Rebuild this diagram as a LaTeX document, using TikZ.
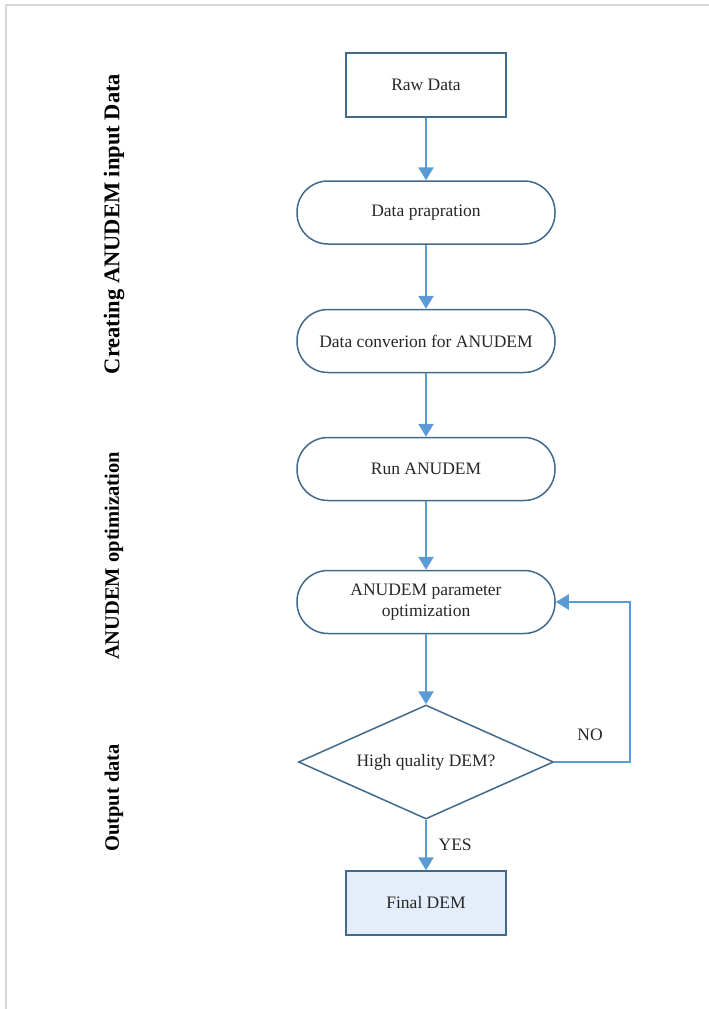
\documentclass[tikz,border=0pt]{standalone}
\usepackage{fontspec}
\setmainfont{Liberation Serif}
\usetikzlibrary{arrows.meta,shapes.geometric}

\definecolor{flowline}{RGB}{91,155,213}
\definecolor{boxline}{RGB}{65,105,140}
\definecolor{pageline}{RGB}{215,215,220}
\definecolor{finalfill}{RGB}{228,238,250}

\tikzset{
    box/.style={draw=boxline, line width=1.5pt, rectangle, minimum width=160pt,
        minimum height=64pt, font=\fontsize{17.5}{20}\selectfont, text=black!85},
    terminal/.style={draw=boxline, line width=1.5pt, rectangle, rounded corners=31pt,
        minimum width=258pt, minimum height=63pt, align=center,
        font=\fontsize{17.5}{21}\selectfont, text=black!85},
    decision/.style={draw=boxline, line width=1.5pt, diamond, inner sep=0pt,
        aspect=2.24, minimum width=255pt, minimum height=114pt,
        font=\fontsize{17.5}{20}\selectfont, text=black!85},
    flow/.style={draw=flowline, line width=2.6pt,
        -{Triangle[width=15pt,length=13pt]}},
    phase/.style={rotate=90, font=\fontsize{20.5}{24}\selectfont\bfseries},
    answer/.style={font=\fontsize{17.5}{20}\selectfont, text=black!85}
}

\begin{document}
\begin{tikzpicture}[x=1pt,y=-1pt]
    \useasboundingbox (0,0) rectangle (709,1009);
    \draw[pageline, line width=1.6pt] (6,1009) -- (6,5) -- (709,5);

    % phases
    \node[phase, font=\fontsize{22.5}{26}\selectfont\bfseries] (creating) at (114,224) {Creating ANUDEM input Data};
    \node[phase] (optim) at (114,556) {ANUDEM optimization};
    \node[phase] (output) at (114,798) {Output data};

    % steps
    \node[box] (raw) at (426,85) {Raw Data};
    \node[terminal] (prep) at (426,212.5) {Data prapration};
    \node[terminal] (conv) at (426,341) {Data converion for ANUDEM};
    \node[terminal] (run) at (426,469) {Run ANUDEM};
    \node[terminal] (param) at (426,602) {ANUDEM parameter\\optimization};
    \node[decision] (check) at (426,762) {High quality DEM?};
    \node[box, fill=finalfill] (final) at (426,903) {Final DEM};
    \coordinate (loop) at (630,762);

    % connectors
    \draw[flow] (raw) -- (prep);
    \draw[flow] (prep) -- (conv);
    \draw[flow] (conv) -- (run);
    \draw[flow] (run) -- (param);
    \draw[flow] (param) -- (check);
    \draw[flow] (check) -- node[answer, right=8pt] {YES} (final);
    \draw[flow] (check.east) -- (loop) |- (param.east);

    % labels
    \node[answer] (no) at (590,735) {NO};
\end{tikzpicture}
\end{document}
